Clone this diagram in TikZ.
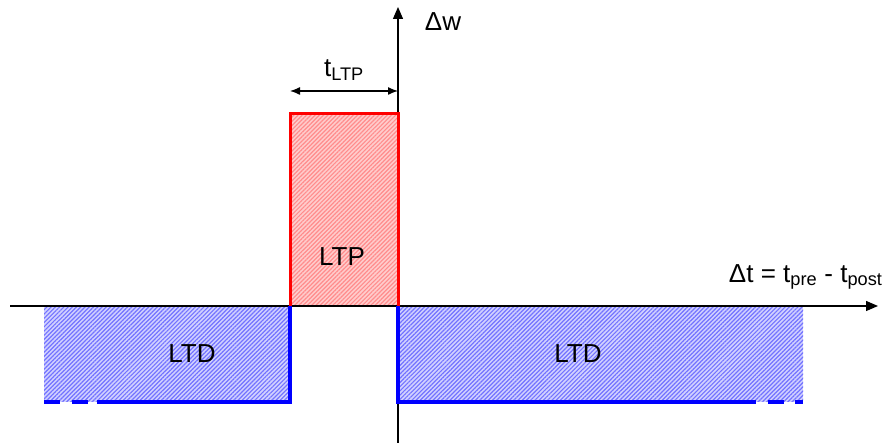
\documentclass[tikz,border=0pt]{standalone}
\usepackage{fontspec}
\setmainfont{Liberation Sans}
\usetikzlibrary{arrows.meta,patterns.meta}

\begin{document}
\begin{tikzpicture}[x=1pt,y=1pt,
        every node/.style={font=\fontsize{26}{30}\selectfont},
        axis/.style={line width=1.3pt,-{Triangle[length=12pt,width=10pt]}},
        ltpfill/.style={preaction={fill=red!20},pattern={Lines[angle=45,distance=3pt,line width=1.2pt]},pattern color=red!45},
        ltdfill/.style={preaction={fill=blue!18},pattern={Lines[angle=45,distance=3pt,line width=1.2pt]},pattern color=blue!55}]
            \useasboundingbox (0,0) rectangle (886,443);
            % corners
            \coordinate (o) at (398,137);
            \coordinate (p) at (290,137);
            \coordinate (q) at (290,329);
            \coordinate (r) at (398,329);
            \coordinate (l) at (44,41);
            \coordinate (m) at (803,41);
            % areas
            \fill[ltpfill] (p) rectangle (r);
            \fill[ltdfill] (l) rectangle (p);
            \fill[ltdfill] (o) rectangle (m);
            % axes
            \coordinate (xs) at (10,137);
            \coordinate (xe) at (878,137);
            \coordinate (ys) at (398,0);
            \coordinate (ye) at (398,436);
            \draw[axis] (xs)--(xe);
            \draw[axis] (ys)--(ye);
            % outlines
            \draw[red,line width=3pt] (p)--(q)--(r)--(o);
            \draw[blue,line width=3.5pt,dash pattern=on 16pt off 12pt on 16pt off 9pt on 400pt off 10pt] (l)--(p|-l)--(p);
            \draw[blue,line width=3.5pt,dash pattern=on 454pt off 12pt on 16pt off 11pt on 10pt off 10pt] (o)--(o|-m)--(m);
            % width
            \coordinate (ws) at (290,352);
            \coordinate (we) at (398,352);
            \draw[{Latex[length=10pt,width=8pt]}-{Latex[length=10pt,width=8pt]},line width=1.3pt](ws)--(we);
            % labels
            \node (tw) at (344,373) {t\textsubscript{LTP}};
            \node (dw) at (443,421) {Δw};
            \node (a) at (342,186) {LTP};
            \node (b) at (192,89) {LTD};
            \node (c) at (578,89) {LTD};
            \node[anchor=east] (dt) at (886,166) {Δt = t\textsubscript{pre} - t\textsubscript{post}};
\end{tikzpicture}
\end{document}
